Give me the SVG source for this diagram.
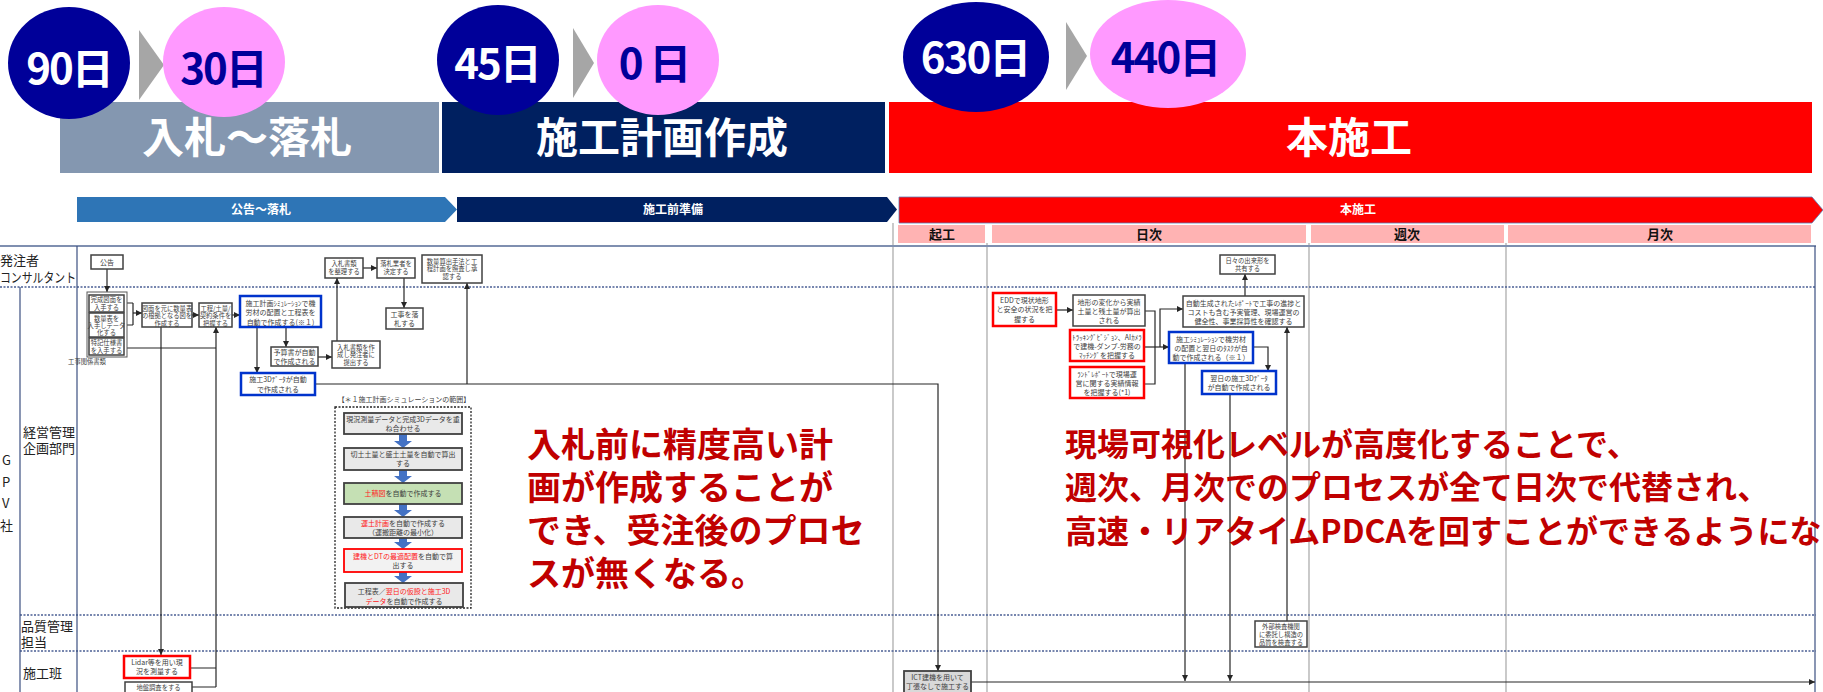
<svg xmlns="http://www.w3.org/2000/svg" width="1823" height="692" viewBox="0 0 1823 692">
<style>
text{font-family:"Noto Sans CJK JP","Noto Sans",sans-serif}
.b{fill:#fff;stroke:#404040;stroke-width:1.5}
.bb{fill:#fff;stroke:#0033cc;stroke-width:2.5}
.br{fill:#fff;stroke:#ff0000;stroke-width:2.5}
.g{fill:#e9e9e9;stroke:#404040;stroke-width:1.8}
.t{font-size:7px;fill:#404040;text-anchor:middle}
.s{font-size:6.3px;fill:#404040;text-anchor:middle}
.r{fill:#ff2020}
.c{stroke:#262626;stroke-width:1.2;fill:none}
.ca{stroke:#262626;stroke-width:1.2;fill:none;marker-end:url(#a)}
.dash{stroke:#4a5f94;stroke-width:1.5;stroke-dasharray:2 1.5;fill:none}
.vl{stroke:#3b4f80;stroke-width:1.2}
.gl{stroke:#a6a6a6;stroke-width:1.2}
.lane{font-size:13px;fill:#222}
.big{font-size:34px;font-weight:bold;fill:#c00000}
.big2{font-size:32px;font-weight:bold;fill:#c00000}
.hd{font-size:42px;font-weight:bold;text-anchor:middle}
.ph{font-size:13px;font-weight:bold;fill:#111;text-anchor:middle}
.cv{font-size:12px;font-weight:bold;fill:#fff;text-anchor:middle}
.ba{fill:#4472c4}
</style>
<defs>
<marker id="a" viewBox="0 0 10 10" refX="10" refY="5" markerWidth="6" markerHeight="6" orient="auto" markerUnits="userSpaceOnUse"><path d="M0,0 L10,5 L0,10 z" fill="#262626"/></marker>
</defs>

<!-- top phase bars -->
<g id="phase-bars">
<rect x="60" y="102" width="379" height="71" fill="#8497b0"/>
<rect x="442" y="102" width="443" height="71" fill="#002060"/>
<rect x="889" y="102" width="923" height="71" fill="#ff0000"/>
<text class="hd" x="247" y="153" fill="#fff">入札〜落札</text>
<text class="hd" x="662" y="153" fill="#fff">施工計画作成</text>
<text class="hd" x="1349" y="153" fill="#fff">本施工</text>
</g>

<g id="day-badges">
<polygon points="139,30 164,65 139,100" fill="#a6a6a6"/>
<polygon points="573,28 594,63 573,98" fill="#a6a6a6"/>
<polygon points="1066,22 1087,56 1066,90" fill="#a6a6a6"/>
<ellipse cx="69" cy="63" rx="61" ry="56" fill="#000099"/>
<ellipse cx="224" cy="62" rx="61" ry="55" fill="#ff99ff"/>
<ellipse cx="498" cy="60" rx="61" ry="55" fill="#000099"/>
<ellipse cx="658" cy="60" rx="61" ry="55" fill="#ff99ff"/>
<ellipse cx="976" cy="57" rx="73" ry="55" fill="#000099"/>
<ellipse cx="1168" cy="54" rx="78" ry="54" fill="#ff99ff"/>
<text class="hd" x="69" y="84" fill="#fff" letter-spacing="-2">90日</text>
<text class="hd" x="223" y="84" fill="#000099" letter-spacing="-2">30日</text>
<text class="hd" x="497" y="79" fill="#fff" letter-spacing="-2">45日</text>
<text class="hd" x="654" y="79" fill="#000099" letter-spacing="-2">0 日</text>
<text class="hd" x="975" y="73" fill="#fff" letter-spacing="-2">630日</text>
<text class="hd" x="1165" y="73" fill="#000099" letter-spacing="-2">440日</text>
</g>

<!-- chevron row -->
<g id="chevrons">
<polygon points="77,197 445,197 457,209.5 445,222 77,222" fill="#2e75b6"/>
<polygon points="457,197 887,197 897,209.5 887,222 457,222" fill="#002060"/>
<polygon points="899,197 1812,197 1823,210 1812,223 899,223" fill="#ff0000" stroke="#5b7fb8" stroke-width="0.8"/>
<text class="cv" x="261" y="214">公告〜落札</text>
<text class="cv" x="673" y="214">施工前準備</text>
<text class="cv" x="1358" y="214">本施工</text>
</g>

<g id="period-headers">
<rect x="898" y="225" width="87" height="18" fill="#ffb3b3"/>
<rect x="992" y="225" width="314" height="18" fill="#ffb3b3"/>
<rect x="1311" y="225" width="193" height="18" fill="#ffb3b3"/>
<rect x="1508" y="225" width="303" height="18" fill="#ffb3b3"/>
<text class="ph" x="942" y="239">起工</text>
<text class="ph" x="1149" y="239">日次</text>
<text class="ph" x="1407" y="239">週次</text>
<text class="ph" x="1660" y="239">月次</text>
</g>

<!-- swimlanes -->
<g id="lanes">
<line x1="893" y1="223" x2="893" y2="692" class="gl"/>
<line x1="987" y1="243" x2="987" y2="692" class="gl"/>
<line x1="1309" y1="243" x2="1309" y2="692" class="gl"/>
<line x1="1506" y1="243" x2="1506" y2="692" class="gl"/>
<line x1="0" y1="246" x2="1816" y2="246" stroke="#7f8fb0" stroke-width="2"/>
<line x1="0" y1="287" x2="1816" y2="287" class="dash"/>
<line x1="20" y1="615" x2="1816" y2="615" class="dash"/>
<line x1="20" y1="651" x2="1816" y2="651" class="dash"/>
<line x1="77" y1="246" x2="77" y2="692" class="vl"/>
<line x1="20" y1="287" x2="20" y2="692" class="vl"/>
<line x1="1815" y1="246" x2="1815" y2="692" class="vl"/>
<text class="lane" x="0" y="265" font-size="14">発注者</text>
<text class="lane" x="0" y="282" font-size="14" textLength="76" lengthAdjust="spacingAndGlyphs">コンサルタント</text>
<text class="lane" x="23" y="437" font-size="12">経営管理</text>
<text class="lane" x="23" y="453" font-size="12">企画部門</text>
<text class="lane" x="2" y="465" font-size="14">G</text>
<text class="lane" x="2" y="487" font-size="14">P</text>
<text class="lane" x="2" y="508" font-size="14">V</text>
<text class="lane" x="0" y="530" font-size="14">社</text>
<text class="lane" x="21" y="631" font-size="11">品質管理</text>
<text class="lane" x="21" y="647" font-size="11">担当</text>
<text class="lane" x="23" y="678" font-size="14">施工班</text>
</g>

<!-- connectors -->
<g id="connectors">
<path class="ca" d="M107,269 V292"/>
<path class="c" d="M124,303 H133 M124,325 H133 M133,303 V325"/>
<path class="ca" d="M133,313 H142"/>
<path class="ca" d="M192,315 H199"/>
<path class="ca" d="M232,315 H240"/>
<path class="ca" d="M257,327 V373"/>
<path class="ca" d="M286,327 V347"/>
<path class="ca" d="M318,357 H332"/>
<path class="ca" d="M337,341 V278"/>
<path class="ca" d="M363,268 H377"/>
<path class="ca" d="M404,278 V308"/>
<path class="ca" d="M315,384 H938 V671"/>
<path class="ca" d="M467,384 V283"/>
<path class="c" d="M124,348 H216"/>
<path class="ca" d="M216,687 V327"/>
<path class="c" d="M190,668 H216 M192,687 H216"/>
<path class="ca" d="M161,327 V655"/>
<path class="ca" d="M1056,310 H1073"/>
<path class="c" d="M1145,311 H1155 V384 H1144"/>
<path class="ca" d="M1144,347 H1169"/>
<path class="ca" d="M1160,347 V309 H1183"/>
<path class="ca" d="M1253,347 H1268 V371"/>
<path class="ca" d="M1185,363 V681"/>
<path class="ca" d="M1230,394 V681"/>
<path class="ca" d="M1287,621 V327"/>
<path class="ca" d="M1245,296 V274"/>
<path class="ca" d="M971,682 H1815" stroke-width="1.6"/>
</g>

<!-- left nodes -->
<g id="n-koukoku"><rect class="b" x="91" y="255" width="32" height="14"/><text class="t" x="107" y="265" font-size="8">公告</text></g>
<g id="n-docs">
<rect x="87" y="292" width="40" height="65" fill="#fff" stroke="#595959" stroke-width="1"/>
<text class="s" x="87" y="364" text-anchor="start">工事関係書類</text>
</g>
<g id="n-kansei"><rect class="b" x="89" y="295" width="35" height="17"/><text class="s" x="106.5" y="302">完成図面を<tspan x="106.5" dy="7.5">入手する</tspan></text></g>
<g id="n-suryo"><rect class="b" x="89" y="313" width="35" height="24"/><text class="s" x="106.5" y="320.5">数量表を<tspan x="106.5" dy="7.3">入手しデータ</tspan><tspan x="106.5" dy="7.3">化する</tspan></text></g>
<g id="n-tokki"><rect class="b" x="89" y="338" width="35" height="17"/><text class="s" x="106.5" y="345">特記仕様書<tspan x="106.5" dy="7.5">を入手する</tspan></text></g>
<g id="n-zumen"><rect class="b" x="142" y="303" width="50" height="24"/><text class="s" x="167" y="311">図面を元に数量表<tspan x="167" dy="7.3">の根拠となる図を</tspan><tspan x="167" dy="7.3">作成する</tspan></text></g>
<g id="n-koutei"><rect class="b" x="199" y="303" width="33" height="24"/><text class="s" x="215.5" y="311">工程/土量/<tspan x="215.5" dy="7.3">契約条件を</tspan><tspan x="215.5" dy="7.3">把握する</tspan></text></g>
<g id="n-sim"><rect class="bb" x="240" y="296" width="81" height="31"/><text class="t" x="280.5" y="305.5" font-size="7.5">施工計画ｼﾐｭﾚｰｼｮﾝで機<tspan x="280.5" dy="9.5">労材の配置と工程表を</tspan><tspan x="280.5" dy="9.5">自動で作成する(※１)</tspan></text></g>
<g id="n-yosan"><rect class="b" x="271" y="347" width="47" height="19"/><text class="t" x="294.5" y="355">予算書が自動<tspan x="294.5" dy="8.5">で作成される</tspan></text></g>
<g id="n-nyusatsu-sakusei"><rect class="b" x="332" y="341" width="48" height="27"/><text class="s" x="356" y="349.5">入札書類を作<tspan x="356" dy="7.8">成し発注者に</tspan><tspan x="356" dy="7.8">提出する</tspan></text></g>
<g id="n-nyusatsu-seiri"><rect class="b" x="325" y="258" width="38" height="20"/><text class="s" x="344" y="266">入札書類<tspan x="344" dy="8">を整理する</tspan></text></g>
<g id="n-rakusatsu-gyosha"><rect class="b" x="377" y="258" width="38" height="20"/><text class="s" x="396" y="266">落札業者を<tspan x="396" dy="8">決定する</tspan></text></g>
<g id="n-kouji-rakusatsu"><rect class="b" x="386" y="308" width="37" height="21"/><text class="t" x="404.5" y="317" font-size="7.5">工事を落<tspan x="404.5" dy="9">札する</tspan></text></g>
<g id="n-suryo-santei"><rect class="b" x="422" y="255" width="60" height="28"/><text class="s" x="452" y="263.5">数量算出手法と工<tspan x="452" dy="7.8">程計画を照査し承</tspan><tspan x="452" dy="7.8">認する</tspan></text></g>
<g id="n-3d"><rect class="bb" x="241" y="373" width="74" height="22"/><text class="t" x="278" y="382" font-size="7.5">施工3Dﾃﾞｰﾀが自動<tspan x="278" dy="9.5">で作成される</tspan></text></g>
<g id="n-lidar"><rect class="br" x="124" y="656" width="66" height="22"/><text class="t" x="157" y="665">Lidar等を用い現<tspan x="157" dy="9">況を測量する</tspan></text></g>
<g id="n-jiban"><rect class="b" x="125" y="682" width="67" height="18"/><text class="s" x="158.5" y="689.5">地盤調査をする</text></g>

<!-- simulation scope group -->
<g id="n-scope">
<rect x="335" y="407" width="136" height="201" fill="#fff" stroke="#222" stroke-width="1.3" stroke-dasharray="2 1.5"/>
<text class="t" x="404" y="402" font-size="7.5">【＊１施工計画シミュレーションの範囲】</text>
<path class="ba" d="M399,434 h8 v7 h5 l-9,7 l-9,-7 h5 z"/>
<path class="ba" d="M399,470 h8 v6 h5 l-9,7 l-9,-7 h5 z"/>
<path class="ba" d="M399,504 h8 v6 h5 l-9,7 l-9,-7 h5 z"/>
<path class="ba" d="M399,538 h8 v4 h5 l-9,7 l-9,-7 h5 z"/>
<path class="ba" d="M399,572 h8 v4 h5 l-9,7 l-9,-7 h5 z"/>
</g>
<g id="n-s1"><rect class="g" x="344" y="413" width="118" height="21"/><text class="t" x="403" y="422">現況測量データと完成3Dデータを重<tspan x="403" dy="9">ね合わせる</tspan></text></g>
<g id="n-s2"><rect class="g" x="344" y="448" width="118" height="22"/><text class="t" x="403" y="457">切土土量と盛土土量を自動で算出<tspan x="403" dy="9">する</tspan></text></g>
<g id="n-s3"><rect x="344" y="483" width="118" height="21" fill="#c5e0b4" stroke="#404040" stroke-width="1.8"/><text class="t" x="403" y="496"><tspan class="r">土積図</tspan>を自動で作成する</text></g>
<g id="n-s4"><rect class="g" x="344" y="517" width="118" height="21"/><text class="t" x="403" y="526"><tspan class="r">運土計画</tspan>を自動で作成する<tspan x="403" dy="9">（運搬距離の最小化）</tspan></text></g>
<g id="n-s5"><rect x="344" y="549" width="118" height="23" fill="#f2f2f2" stroke="#ff0000" stroke-width="1.8"/><text class="t" x="403" y="559"><tspan class="r">建機とDTの最適配置</tspan>を自動で算<tspan x="403" dy="9">出する</tspan></text></g>
<g id="n-s6"><rect class="g" x="345" y="583" width="118" height="24"/><text class="t" x="404" y="594">工程表／<tspan class="r">翌日の仮設と施工3D</tspan><tspan x="404" dy="9.5" class="r">データ</tspan>を自動で作成する</text></g>

<!-- right nodes -->
<g id="n-edd"><rect class="br" x="993" y="293" width="63" height="33"/><text class="t" x="1024.5" y="303">EDDで現状地形<tspan x="1024.5" dy="9.3">と安全の状況を把</tspan><tspan x="1024.5" dy="9.3">握する</tspan></text></g>
<g id="n-chikei"><rect class="b" x="1073" y="295" width="72" height="31"/><text class="t" x="1109" y="305">地形の変化から実績<tspan x="1109" dy="9">土量と残土量が算出</tspan><tspan x="1109" dy="9">される</tspan></text></g>
<g id="n-tracking"><rect class="br" x="1070" y="330" width="74" height="31"/><text class="t" x="1107" y="340">ﾄﾗｯｷﾝｸﾞﾋﾞｼﾞｮﾝ、AIｶﾒﾗ<tspan x="1107" dy="9">で建機-ダンプ-労務の</tspan><tspan x="1107" dy="9">ﾏｯﾁﾝｸﾞを把握する</tspan></text></g>
<g id="n-land"><rect class="br" x="1070" y="367" width="74" height="31"/><text class="t" x="1107" y="377">ﾗﾝﾄﾞﾚﾎﾟｰﾄで現場運<tspan x="1107" dy="9">営に関する実績情報</tspan><tspan x="1107" dy="9">を把握する(*1)</tspan></text></g>
<g id="n-sim2"><rect class="bb" x="1169" y="332" width="84" height="31"/><text class="t" x="1211" y="342">施工ｼﾐｭﾚｰｼｮﾝで機労材<tspan x="1211" dy="9">の配置と翌日のﾀｽｸが自</tspan><tspan x="1211" dy="9">動で作成される（※１）</tspan></text></g>
<g id="n-next3d"><rect class="bb" x="1202" y="371" width="74" height="23"/><text class="t" x="1239" y="380.5">翌日の施工3Dﾃﾞｰﾀ<tspan x="1239" dy="9">が自動で作成される</tspan></text></g>
<g id="n-report"><rect class="b" x="1183" y="296" width="121" height="31" stroke-width="1.8"/><text class="t" x="1243.5" y="305.5">自動生成されたﾚﾎﾟｰﾄで工事の進捗と<tspan x="1243.5" dy="9">コストも含む予実管理、現場運営の</tspan><tspan x="1243.5" dy="9">健全性、事業採算性を確認する</tspan></text></g>
<g id="n-share"><rect class="b" x="1220" y="255" width="55" height="19"/><text class="s" x="1247.5" y="263">日々の出来形を<tspan x="1247.5" dy="7.5">共有する</tspan></text></g>
<g id="n-inspect"><rect class="b" x="1255" y="621" width="52" height="26" stroke-width="1.8"/><text class="s" x="1281" y="629" font-size="6">外部検査機関<tspan x="1281" dy="7.8">に委託し構造の</tspan><tspan x="1281" dy="7.8">品質を検査する</tspan></text></g>
<g id="n-ict"><rect x="904" y="671" width="67" height="27" fill="#d9d9d9" stroke="#404040" stroke-width="1.8"/><text class="t" x="937.5" y="680">ICT建機を用いて<tspan x="937.5" dy="9">丁張なしで施工する</tspan></text></g>

<!-- callouts -->
<g id="callout-left">
<text class="big" x="527" y="457">入札前に精度高い計</text>
<text class="big" x="527" y="500">画が作成することが</text>
<text class="big" x="527" y="543">でき、受注後のプロセ</text>
<text class="big" x="527" y="586">スが無くなる。</text>
</g>
<g id="callout-right">
<text class="big2" x="1065" y="456">現場可視化レベルが高度化することで、</text>
<text class="big2" x="1065" y="499">週次、月次でのプロセスが全て日次で代替され、</text>
<text class="big2" x="1065" y="543">高速・リアタイムPDCAを回すことができるようになる</text>
</g>
</svg>
